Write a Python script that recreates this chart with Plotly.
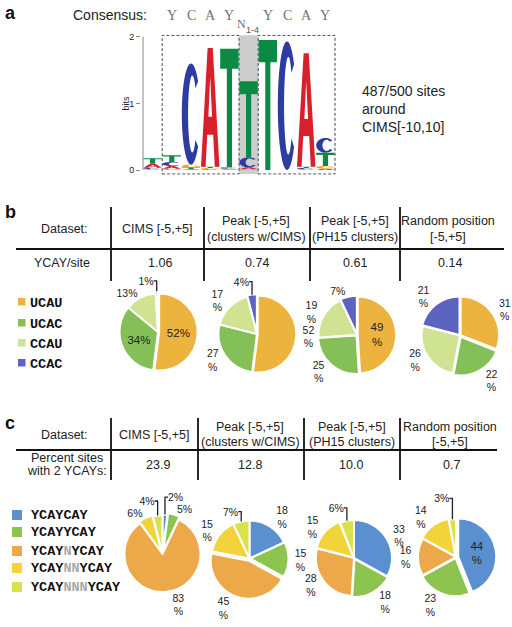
import numpy as np
import plotly.graph_objects as go

W, H = 512, 627

# ---------------- data ----------------
# panel a: sequence logo (bits per letter at each of 10 positions)
logo_positions = [1, 2, 3, 4, 5, 6, 7, 8, 9, 10]
bits_A = [0.06, 0.04, 0.01, 1.78, 0.01, 0.03, 0.00, 0.00, 1.70, 0.02]
bits_C = [0.02, 0.06, 1.52, 0.01, 0.02, 0.15, 0.00, 1.93, 0.02, 0.22]
bits_G = [0.015, 0.02, 0.04, 0.02, 0.01, 0.01, 0.00, 0.00, 0.01, 0.04]
bits_T = [0.08, 0.10, 0.03, 0.02, 1.78, 1.14, 1.95, 0.00, 0.02, 0.20]
consensus = ["", "Y", "C", "A", "Y", "", "Y", "C", "A", "Y"]
logo_ticks = [0, 1, 2]

# panels b and c: tables
datasets_line1 = ["CIMS [-5,+5]", "Peak [-5,+5]", "Peak [-5,+5]", "Random position"]
datasets_line2 = ["", "(clusters w/CIMS)", "(PH15 clusters)", "[-5,+5]"]
ycay_per_site = ["1.06", "0.74", "0.61", "0.14"]
pct_two_ycay = ["23.9", "12.8", "10.0", "0.7"]

# panel b pies
b_labels = ["UCAU", "UCAC", "CCAU", "CCAC"]
b_values = [[52, 34, 13, 1], [52, 27, 17, 4], [49, 25, 19, 7], [31, 22, 26, 21]]

# panel c pies
c_labels = ["YCAYCAY", "YCAYYCAY", "YCAY<span style='color:#a8a8a8'>N</span>YCAY",
            "YCAY<span style='color:#a8a8a8'>NN</span>YCAY",
            "YCAY<span style='color:#a8a8a8'>NNN</span>YCAY"]
c_values = [[2, 5, 83, 6, 4], [18, 15, 45, 15, 7], [33, 18, 28, 15, 6], [44, 23, 16, 14, 3]]

# ---------------- styles ----------------
FONT = "Liberation Sans"
MONO = "Liberation Mono"
TXT = "#222222"
letter_colors = {"A": "#d8202d", "C": "#2e3ba0", "G": "#f4a21c", "T": "#0b8a45"}
b_colors = ["#ecb43f", "#84c057", "#cfe393", "#5c63c0"]
c_colors = ["#5a8fd0", "#8cc44f", "#eda849", "#f3d33a", "#d8e34c"]


def X(px):
    return px / W


def Y(py):
    return 1 - py / H


fig = go.Figure()
shapes = []
ann = []

# ---------------- panel a: logo axes ----------------
x_lo, x_hi = 0.4, 10.6
px_per_col = 19.2
x0_px = 143 - (0.5 - x_lo) * px_per_col
x1_px = 143 + (x_hi - 0.5) * px_per_col
y_lo, y_hi = -0.07, 2.03
px_per_bit = 66.65
y0_px = 170 - y_lo * px_per_bit
y1_px = 170 - y_hi * px_per_bit

fig.update_layout(
    xaxis=dict(domain=[X(x0_px), X(x1_px)], range=[x_lo, x_hi], visible=False, fixedrange=True,
               automargin=False),
    yaxis=dict(domain=[Y(y0_px), Y(y1_px)], range=[y_lo, y_hi], showgrid=False, zeroline=False,
               showline=False, ticks="outside", ticklen=4, tickcolor="#888888", tickwidth=1,
               tickvals=logo_ticks, ticktext=[str(t) for t in logo_ticks], automargin=False,
               tickfont=dict(family=FONT, size=9, color=TXT), fixedrange=True),
)
# invisible trace to activate axes
fig.add_trace(go.Scatter(x=logo_positions, y=[0] * len(logo_positions), mode="markers",
                         marker=dict(size=1, opacity=0), hoverinfo="skip", showlegend=False))


def arc(cx, cy, rx, ry, a0, a1, n=36):
    t = np.radians(np.linspace(a0, a1, n))
    return list(zip(cx + rx * np.cos(t), cy + ry * np.sin(t)))


GLYPHS = {
    "T": [[(0, 1), (1, 1), (1, 0.83), (0.64, 0.83), (0.64, 0), (0.36, 0), (0.36, 0.83), (0, 0.83)]],
    "A": [[(0, 0), (0.36, 1), (0.64, 1), (1, 0), (0.75, 0), (0.66, 0.27), (0.34, 0.27), (0.25, 0)],
          [(0.40, 0.42), (0.60, 0.42), (0.5, 0.76)]],
    "C": [arc(0.5, 0.5, 0.5, 0.5, 40, 320) + arc(0.57, 0.5, 0.23, 0.38, 318, 42)],
    "G": [arc(0.5, 0.5, 0.5, 0.5, 40, 350) + [(1, 0.48), (0.55, 0.48), (0.55, 0.36), (0.76, 0.36)]
          + arc(0.57, 0.5, 0.23, 0.38, 330, 42)],
}

# gray N column and dashed boxes
shapes.append(dict(type="rect", xref="x", yref="y", x0=5.5, x1=6.5, y0=-0.06, y1=2.02,
                   fillcolor="#cdcdcd", line=dict(width=0), layer="below"))
for bx0, bx1 in [(1.5, 5.5), (6.5, 10.5)]:
    shapes.append(dict(type="rect", xref="x", yref="y", x0=bx0, x1=bx1, y0=-0.06, y1=2.02,
                       fillcolor="rgba(0,0,0,0)", line=dict(color="#444444", width=1, dash="3px,2px"),
                       layer="above"))
# axis line
shapes.append(dict(type="line", xref="paper", yref="y", x0=X(143), x1=X(143), y0=0, y1=2,
                   line=dict(color="#888888", width=1)))

bits = {"A": bits_A, "C": bits_C, "G": bits_G, "T": bits_T}
for i, pos in enumerate(logo_positions):
    stack = sorted([(bits[L][i], L) for L in "ACGT" if bits[L][i] > 0])
    base = 0.0
    for h, L in stack:
        xa = pos - 0.48
        wdt = 0.96
        d = ""
        for poly in GLYPHS[L]:
            pts = ["%.4f,%.4f" % (xa + u * wdt, base + v * h) for u, v in poly]
            d += "M" + " L".join(pts) + " Z "
        shapes.append(dict(type="path", xref="x", yref="y", path=d.strip(), fillcolor=letter_colors[L],
                           fillrule="evenodd", line=dict(width=0), layer="above"))
        base += h

for pos, letter in zip(logo_positions, consensus):
    if letter:
        ann.append(dict(x=pos, xref="x", y=Y(16), yref="paper", text=letter, showarrow=False,
                        font=dict(family="Liberation Serif", size=14, color="#707070")))
ann.append(dict(x=6, xref="x", xshift=-7, y=Y(24), yref="paper", text="N", showarrow=False,
                font=dict(family="Liberation Serif", size=12, color="#707070")))
ann.append(dict(x=6, xref="x", xshift=4, y=Y(29.5), yref="paper", text="1-4", showarrow=False,
                font=dict(family=FONT, size=9, color="#555555")))
ann.append(dict(x=X(110), y=Y(15), xref="paper", yref="paper", text="Consensus:", showarrow=False,
                font=dict(family=FONT, size=14, color=TXT)))
ann.append(dict(x=X(125), y=Y(103.5), xref="paper", yref="paper", text="bits", textangle=-90,
                showarrow=False, font=dict(family=FONT, size=9, color=TXT)))
ann.append(dict(x=X(360), y=Y(108.5), xref="paper", yref="paper", xanchor="left",
                text="487/500 sites<br>around<br>CIMS[-10,10]", align="left", showarrow=False,
                font=dict(family=FONT, size=14, color=TXT)))

# panel letters
for lab, px, py in [("a", 10, 13), ("b", 10, 212), ("c", 10, 423)]:
    ann.append(dict(x=X(px), y=Y(py), xref="paper", yref="paper", text="<b>%s</b>" % lab,
                    showarrow=False, font=dict(family=FONT, size=18, color="#111111")))


# ---------------- tables ----------------
def table(vlines_x, vy0, vy1, hy, hx0, hx1, col_x, head_y1, head_y2, head_single, row_label,
          row_label_x, row_label_ys, row_vals, val_x, val_y):
    for vx in vlines_x:
        shapes.append(dict(type="line", xref="paper", yref="paper", x0=X(vx), x1=X(vx), y0=Y(vy0),
                           y1=Y(vy1), line=dict(color="#111111", width=1.8)))
    shapes.append(dict(type="line", xref="paper", yref="paper", x0=X(hx0), x1=X(hx1), y0=Y(hy),
                       y1=Y(hy), line=dict(color="#111111", width=2.2)))
    ann.append(dict(x=X(64), y=Y(head_single), xref="paper", yref="paper", text="Dataset:",
                    showarrow=False, font=dict(family=FONT, size=12.5, color=TXT)))
    for cx, l1, l2 in zip(col_x, datasets_line1, datasets_line2):
        if l2:
            ann.append(dict(x=X(cx), y=Y(head_y1), xref="paper", yref="paper", text=l1,
                            showarrow=False, font=dict(family=FONT, size=12.5, color=TXT)))
            ann.append(dict(x=X(cx), y=Y(head_y2), xref="paper", yref="paper", text=l2,
                            showarrow=False, font=dict(family=FONT, size=12.5, color=TXT)))
        else:
            ann.append(dict(x=X(cx), y=Y(head_single), xref="paper", yref="paper", text=l1,
                            showarrow=False, font=dict(family=FONT, size=12.5, color=TXT)))
    for txt, ry in zip(row_label, row_label_ys):
        ann.append(dict(x=X(row_label_x), y=Y(ry), xref="paper", yref="paper", text=txt,
                        showarrow=False, font=dict(family=FONT, size=12.5, color=TXT)))
    for vx, v in zip(val_x, row_vals):
        ann.append(dict(x=X(vx), y=Y(val_y), xref="paper", yref="paper", text=v,
                        showarrow=False, font=dict(family=FONT, size=12.5, color=TXT)))


table([111, 204, 310, 400], 207, 281, 249, 16, 504, [157, 256, 355, 448], 220.7, 237.3, 229,
      ["YCAY/site"], 62, [263], ycay_per_site, [160, 257, 355, 450], 263)
table([111, 198, 304, 400], 418, 480, 450, 16, 497, [154, 250, 352, 450], 426.7, 441.7, 435,
      ["Percent sites", "with 2 YCAYs:"], 67, [458, 471], pct_two_ycay, [158, 250, 351, 451], 465)


# ---------------- pies ----------------
def pie_domain(cx, cy, r, pull):
    s = r * (1 + max(pull))
    return dict(x=[X(cx - s), X(cx + s)], y=[Y(cy + s), Y(cy - s)])


b_centers = [(158, 332), (257, 334), (357, 335), (460, 335.5)]
b_wrap = [[False, False, False, False], [True, True, True, False],
          [True, True, True, False], [True, True, True, True]]
b_textpos = [["inside", "inside", "outside", "outside"], ["outside"] * 4,
             ["inside", "outside", "outside", "outside"], ["outside"] * 4]
b_pull = [[0.03, 0, 0, 0.06], [0.02, 0, 0, 0.03], [0.02, 0.02, 0, 0.02], [0.02, 0.04, 0, 0.02]]

c_centers = [(162.5, 554), (249.5, 558.5), (354, 558), (456, 557)]
c_wrap = [[False, False, True, False, False], [True, True, True, True, False],
          [True, True, True, True, False], [True, True, True, True, False]]
c_textpos = [["outside"] * 5, ["outside"] * 5, ["outside"] * 5,
             ["inside", "outside", "outside", "outside", "outside"]]
c_pull = [[0.04, 0.08, 0, 0.05, 0.02], [0, 0.02, 0.06, 0, 0], [0, 0.03, 0, 0.02, 0],
          [0.06, 0.03, 0, 0.02, 0]]


def pct_text(vals, wraps):
    return [("%d<br>%%" % v) if w else ("%d%%" % v) for v, w in zip(vals, wraps)]


for vals, (cx, cy), wr, tp, pl in zip(b_values, b_centers, b_wrap, b_textpos, b_pull):
    fig.add_trace(go.Pie(values=vals, labels=b_labels, text=pct_text(vals, wr), textinfo="text",
                         textposition=tp, sort=False, direction="clockwise", rotation=0, pull=pl,
                         marker=dict(colors=b_colors, line=dict(color="white", width=2)),
                         domain=pie_domain(cx, cy, 38.5, pl), showlegend=False, automargin=False,
                         insidetextorientation="horizontal",
                         textfont=dict(family=FONT, size=10.5, color=TXT),
                         insidetextfont=dict(family=FONT, size=11.5, color=TXT),
                         outsidetextfont=dict(family=FONT, size=10.5, color=TXT),
                         hoverinfo="label+percent"))

for vals, (cx, cy), wr, tp, pl in zip(c_values, c_centers, c_wrap, c_textpos, c_pull):
    fig.add_trace(go.Pie(values=vals, labels=c_labels, text=pct_text(vals, wr), textinfo="text",
                         textposition=tp, sort=False, direction="clockwise", rotation=0, pull=pl,
                         marker=dict(colors=c_colors, line=dict(color="white", width=2)),
                         domain=pie_domain(cx, cy, 38, pl), showlegend=False, automargin=False,
                         insidetextorientation="horizontal",
                         textfont=dict(family=FONT, size=10.5, color=TXT),
                         insidetextfont=dict(family=FONT, size=11.5, color=TXT),
                         outsidetextfont=dict(family=FONT, size=10.5, color=TXT),
                         hoverinfo="label+percent"))

# ---------------- manual legends ----------------
for lab, col, ly in zip(b_labels, b_colors, [302, 323, 343, 363]):
    shapes.append(dict(type="rect", xref="paper", yref="paper", x0=X(18), x1=X(25.5), y0=Y(ly + 3.5),
                       y1=Y(ly - 4), fillcolor=col, line=dict(width=0)))
    ann.append(dict(x=X(28), y=Y(ly + 1), xref="paper", yref="paper", xanchor="left",
                    text="<b>%s</b>" % lab, showarrow=False, font=dict(family=MONO, size=13.5, color="#111111")))

for lab, col, ly in zip(c_labels, c_colors, [515, 532, 551, 568, 587]):
    shapes.append(dict(type="rect", xref="paper", yref="paper", x0=X(12), x1=X(22), y0=Y(ly + 5),
                       y1=Y(ly - 5), fillcolor=col, line=dict(width=0)))
    ann.append(dict(x=X(29), y=Y(ly + 0.5), xref="paper", yref="paper", xanchor="left",
                    text="<b>%s</b>" % lab, showarrow=False, font=dict(family=MONO, size=13.5, color="#111111")))

for a in ann:
    a.setdefault("xanchor", "center")
    a.setdefault("yanchor", "middle")

fig.update_layout(width=W, height=H, autosize=False,
                  margin=dict(l=0, r=0, t=0, b=0, pad=0, autoexpand=False),
                  paper_bgcolor="white", plot_bgcolor="white", shapes=shapes, annotations=ann,
                  font=dict(family=FONT, color=TXT), showlegend=False)

fig.write_html("out.html", config={"displayModeBar": False},
               post_script="document.body.style.margin='0px';document.body.style.overflow='hidden';")
